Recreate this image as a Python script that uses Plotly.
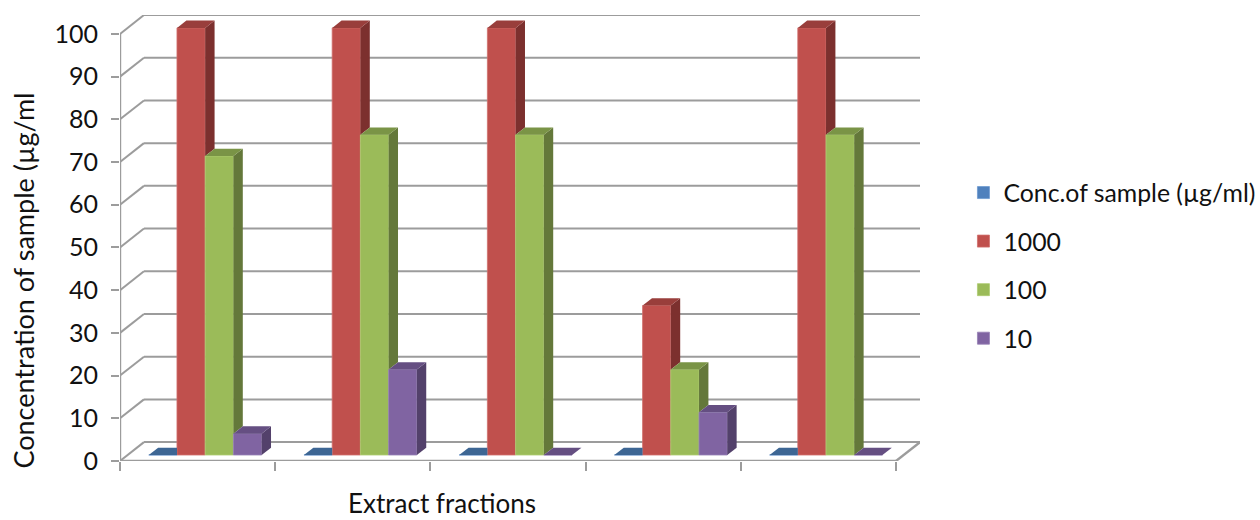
import numpy as np
import plotly.graph_objects as go

# ---- data ----
series_names = ["Conc.of sample (µg/ml)", "1000", "100", "10"]
conc_values = [0, 0, 0, 0, 0]
v1000 = [100, 100, 100, 35, 100]
v100 = [70, 75, 75, 20, 75]
v10 = [5, 20, 0, 10, 0]
y_ticks = list(range(0, 101, 10))
n_cat = 5

# ---- style ----
front = ["#4F81BD", "#C0504D", "#9BBB59", "#8064A2"]
top = ["#3D6694", "#993E3B", "#7A9446", "#654F82"]
side = ["#335680", "#7C302E", "#64783A", "#53416B"]
edge = ["#6F9AD0", "#D06F6C", "#AECB72", "#9680B5"]
grid = "#9C9C9C"
font = "Lato, Carlito, 'Open Sans', sans-serif"

PX_X = 155.4   # pixels per category
PX_Y = 4.27    # pixels per value unit
XMAX = n_cat + 24 / PX_X
YMAX = 100 + 18.9 / PX_Y
floor_dx = 7.6 / PX_X
floor_dz = 6 / PX_Y
bar_dx = 9.4 / PX_X
bar_dz = 7.3 / PX_Y
BW = 1 / 5.5

all_vals = [conc_values, v1000, v100, v10]
fig = go.Figure()

# walls and floor, kept below the bars
wall_shapes = []
def seg(x0, y0, x1, y1, w=2.0):
    wall_shapes.append(dict(type="line", xref="x", yref="y", x0=x0, y0=y0, x1=x1, y1=y1,
                            layer="below", line=dict(color=grid, width=w)))
for v in y_ticks:
    seg(0, v, XMAX - n_cat, v + YMAX - 100)
    seg(XMAX - n_cat, v + YMAX - 100, XMAX, v + YMAX - 100)
seg(0, 0, 0, 100, 2.4)
seg(0, 0, n_cat, 0, 2.4)
seg(n_cat, 0, XMAX, YMAX - 100, 2.4)

# front faces
centers = np.arange(n_cat) + 0.5 + floor_dx
for s, vals in enumerate(all_vals):
    fig.add_trace(go.Bar(x=centers, y=vals, base=floor_dz, name=series_names[s],
                         legendgroup=series_names[s],
                         marker=dict(color=front[s], line=dict(color=edge[s], width=0.8))))

# top and side faces, drawn left to right and cut where the next bar's front hides them
for c in range(n_cat):
    for s, vals in enumerate(all_vals):
        h = vals[c]
        nxt = all_vals[s + 1][c] if s < 3 else 0
        x0 = c + 0.5 + floor_dx - 2 * BW + s * BW
        x1 = x0 + BW
        b = h + floor_dz
        if nxt > h:
            px = [x0, x1, x1, x0 + bar_dx, x0]
        else:
            px = [x0, x1, x1 + bar_dx, x0 + bar_dx, x0]
        py = [b, b, b + bar_dz, b + bar_dz, b]
        if h > nxt or (s == 3 and h > 0):
            low = nxt + floor_dz
            fig.add_trace(go.Scatter(x=[x1, x1 + bar_dx, x1 + bar_dx, x1, x1],
                                     y=[low, low + bar_dz, b + bar_dz, b, low],
                                     mode="lines", fill="toself", fillcolor=side[s],
                                     line=dict(width=0, color=side[s]),
                                     showlegend=False, hoverinfo="skip"))
        fig.add_trace(go.Scatter(x=px, y=py, mode="lines", fill="toself", fillcolor=top[s],
                                 line=dict(width=0, color=top[s]),
                                 showlegend=False, hoverinfo="skip"))

X_LEFT, X_RIGHT, Y_TOP, Y_BOT = 119.5, 119.5 + XMAX * PX_X, 461 - YMAX * PX_Y, 461.0

fig.update_layout(
    width=1260, height=520,
    margin=dict(l=X_LEFT, r=1260 - X_RIGHT, t=Y_TOP, b=520 - Y_BOT, pad=0, autoexpand=False),
    paper_bgcolor="white", plot_bgcolor="rgba(0,0,0,0)",
    barmode="group", bargap=1.5 / 5.5, bargroupgap=0,
    shapes=wall_shapes,
    font=dict(family=font, color="#111111", size=25),
    xaxis=dict(range=[0, XMAX], tickmode="array", tickvals=list(range(n_cat + 1)), ticktext=[""] * (n_cat + 1),
               ticks="outside", ticklen=9, tickwidth=2, tickcolor=grid, showgrid=False, zeroline=False, showline=False),
    yaxis=dict(range=[0, YMAX], tickmode="array", tickvals=y_ticks, ticks="outside", ticklen=8,
               tickwidth=2, tickcolor=grid, showgrid=False, zeroline=False, showline=False,
               ticklabelstandoff=8, tickfont=dict(size=25, family=font)),
    legend=dict(x=(964 - X_LEFT) / (X_RIGHT - X_LEFT), xanchor="left",
                y=1 - (170 - Y_TOP) / (Y_BOT - Y_TOP), yanchor="top",
                tracegroupgap=13.3, font=dict(size=24.8, family=font), bgcolor="rgba(0,0,0,0)"),
    annotations=[
        dict(text="Extract fractions", xref="paper", yref="paper",
             x=(442 - X_LEFT) / (X_RIGHT - X_LEFT), y=1 - (503 - Y_TOP) / (Y_BOT - Y_TOP),
             xanchor="center", yanchor="middle", borderpad=0,
             showarrow=False, font=dict(size=26, family=font)),
        dict(text="Concentration of sample (µg/ml", xref="paper", yref="paper", textangle=-90,
             x=(23 - X_LEFT) / (X_RIGHT - X_LEFT), y=1 - (281 - Y_TOP) / (Y_BOT - Y_TOP),
             xanchor="center", yanchor="middle",
             showarrow=False, font=dict(size=27, family=font)),
    ],
)
fig.write_html("out.html", config={"displayModeBar": False},
               post_script="document.body.style.margin='0';")
